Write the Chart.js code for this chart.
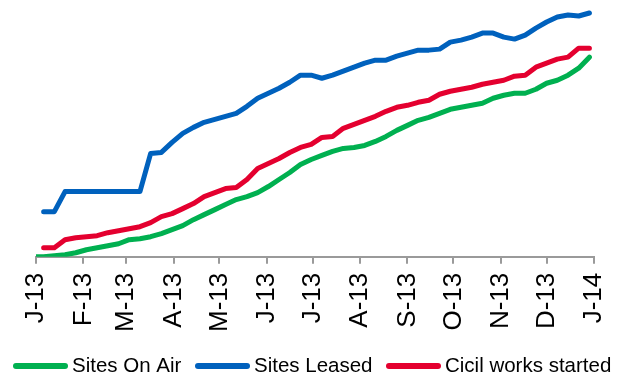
<!DOCTYPE html>
<html>
<head>
<meta charset="utf-8">
<script src="https://cdn.jsdelivr.net/npm/chart.js@4.4.1/dist/chart.umd.min.js"></script>
<style>
  html, body { margin: 0; padding: 0; background: #ffffff; }
  #wrap { position: relative; width: 619px; height: 375px; }
</style>
</head>
<body>
<div id="wrap"><canvas id="chart"></canvas></div>
<script>
// Month boundaries (day offset from 1 Jan 2013) and their axis labels
const monthStartDays = [0, 31, 59, 90, 120, 151, 181, 212, 243, 273, 304, 334, 365];
const monthLabels = ['J-13', 'F-13', 'M-13', 'A-13', 'M-13', 'J-13', 'J-13', 'A-13', 'S-13', 'O-13', 'N-13', 'D-13', 'J-14'];

// Weekly reporting days (day offset from 1 Jan 2013); first entry is the year start
const reportDays = [0, 5, 12, 19, 26, 33, 40, 47, 54, 61, 68, 75, 82, 89, 96, 103, 110, 117, 124, 131,
  138, 145, 152, 159, 166, 173, 180, 187, 194, 201, 208, 215, 222, 229, 236, 243, 250, 257, 264,
  271, 278, 285, 292, 299, 306, 313, 320, 327, 334, 341, 348, 355, 362];

// Cumulative site counts
const sitesOnAir = [0, 0, 1, 2, 4, 7, 9, 11, 13, 17, 18, 20, 23, 27, 31, 37, 42, 47, 52, 57, 60,
  64, 70, 77, 84, 92, 97, 101, 105, 108, 109, 111, 115, 120, 126, 131, 136, 139, 143, 147, 149,
  151, 153, 158, 161, 163, 163, 167, 173, 176, 181, 188, 199];
const sitesLeased = [null, 45, 45, 65, 65, 65, 65, 65, 65, 65, 65, 103, 104, 114, 123, 129, 134, 137, 140, 143, 150,
  158, 163, 168, 174, 181, 181, 178, 181, 185, 189, 193, 196, 196, 200, 203, 206, 206, 207, 214, 216,
  219, 223, 223, 219, 217, 221, 228, 234, 239, 241, 240, 243];
const civilWorksStarted = [null, 9, 9, 17, 19, 20, 21, 24, 26, 28, 30, 34, 40, 43, 48, 53, 60, 64, 68, 69, 77,
  88, 93, 98, 104, 109, 112, 119, 120, 128, 132, 136, 140, 145, 149, 151, 154, 156, 162, 165, 167,
  169, 172, 174, 176, 180, 181, 189, 193, 197, 199, 208, 208];

const seriesNames = ['Sites On Air', 'Sites Leased', 'Cicil works started'];
const seriesColors = ['#00b050', '#0061bd', '#e4002f'];

function toPoints(values) {
  return reportDays.map((d, i) => ({ x: d, y: values[i] }));
}

function lineDataset(label, values, color) {
  return {
    label: label,
    data: toPoints(values),
    borderColor: color,
    backgroundColor: color,
    borderWidth: 5,
    borderCapStyle: 'round',
    borderJoinStyle: 'round',
    pointRadius: 0,
    pointHoverRadius: 0,
    tension: 0,
    spanGaps: false,
    fill: false
  };
}

// Legend drawn below the axis as a line swatch followed by the series name
const legendSwatchX = [13, 195, 386];
const bottomLegend = {
  id: 'bottomLegend',
  afterDraw(chart) {
    const ctx = chart.ctx;
    ctx.save();
    ctx.font = '20.5px "Liberation Sans", Arial, sans-serif';
    ctx.textBaseline = 'alphabetic';
    ctx.textAlign = 'left';
    const lineY = 366;
    chart.data.datasets.forEach((ds, i) => {
      const x = legendSwatchX[i];
      ctx.strokeStyle = ds.borderColor;
      ctx.lineWidth = 6;
      ctx.lineCap = 'round';
      ctx.beginPath();
      ctx.moveTo(x + 3, lineY);
      ctx.lineTo(x + 52, lineY);
      ctx.stroke();
      ctx.fillStyle = '#000000';
      ctx.fillText(ds.label, x + 59, 372);
    });
    ctx.restore();
  }
};

new Chart(document.getElementById('chart'), {
  type: 'line',
  data: {
    datasets: [
      lineDataset(seriesNames[0], sitesOnAir, seriesColors[0]),
      lineDataset(seriesNames[1], sitesLeased, seriesColors[1]),
      lineDataset(seriesNames[2], civilWorksStarted, seriesColors[2])
    ]
  },
  options: {
    responsive: true,
    maintainAspectRatio: false,
    animation: false,
    events: [],
    layout: { padding: { left: 36, right: 25, top: 6, bottom: 34 } },
    plugins: {
      legend: { display: false },
      tooltip: { enabled: false }
    },
    scales: {
      x: {
        type: 'linear',
        min: 0,
        max: 365,
        afterBuildTicks(scale) {
          scale.ticks = monthStartDays.map(v => ({ value: v }));
        },
        afterFit(scale) {
          scale.paddingLeft = 0;
          scale.paddingRight = 0;
        },
        grid: {
          display: true,
          drawOnChartArea: false,
          drawTicks: true,
          tickLength: 7,
          color: '#9a9a9a',
          lineWidth: 2
        },
        border: { display: true, color: '#9a9a9a', width: 2 },
        ticks: {
          autoSkip: false,
          minRotation: 90,
          maxRotation: 90,
          padding: 9,
          color: '#000000',
          font: { family: '"Liberation Sans", Arial, sans-serif', size: 26 },
          callback(value) {
            const i = monthStartDays.indexOf(value);
            return i >= 0 ? monthLabels[i] : '';
          }
        }
      },
      y: {
        display: false,
        min: 0,
        max: 250
      }
    }
  },
  plugins: [bottomLegend]
});
</script>
</body>
</html>
